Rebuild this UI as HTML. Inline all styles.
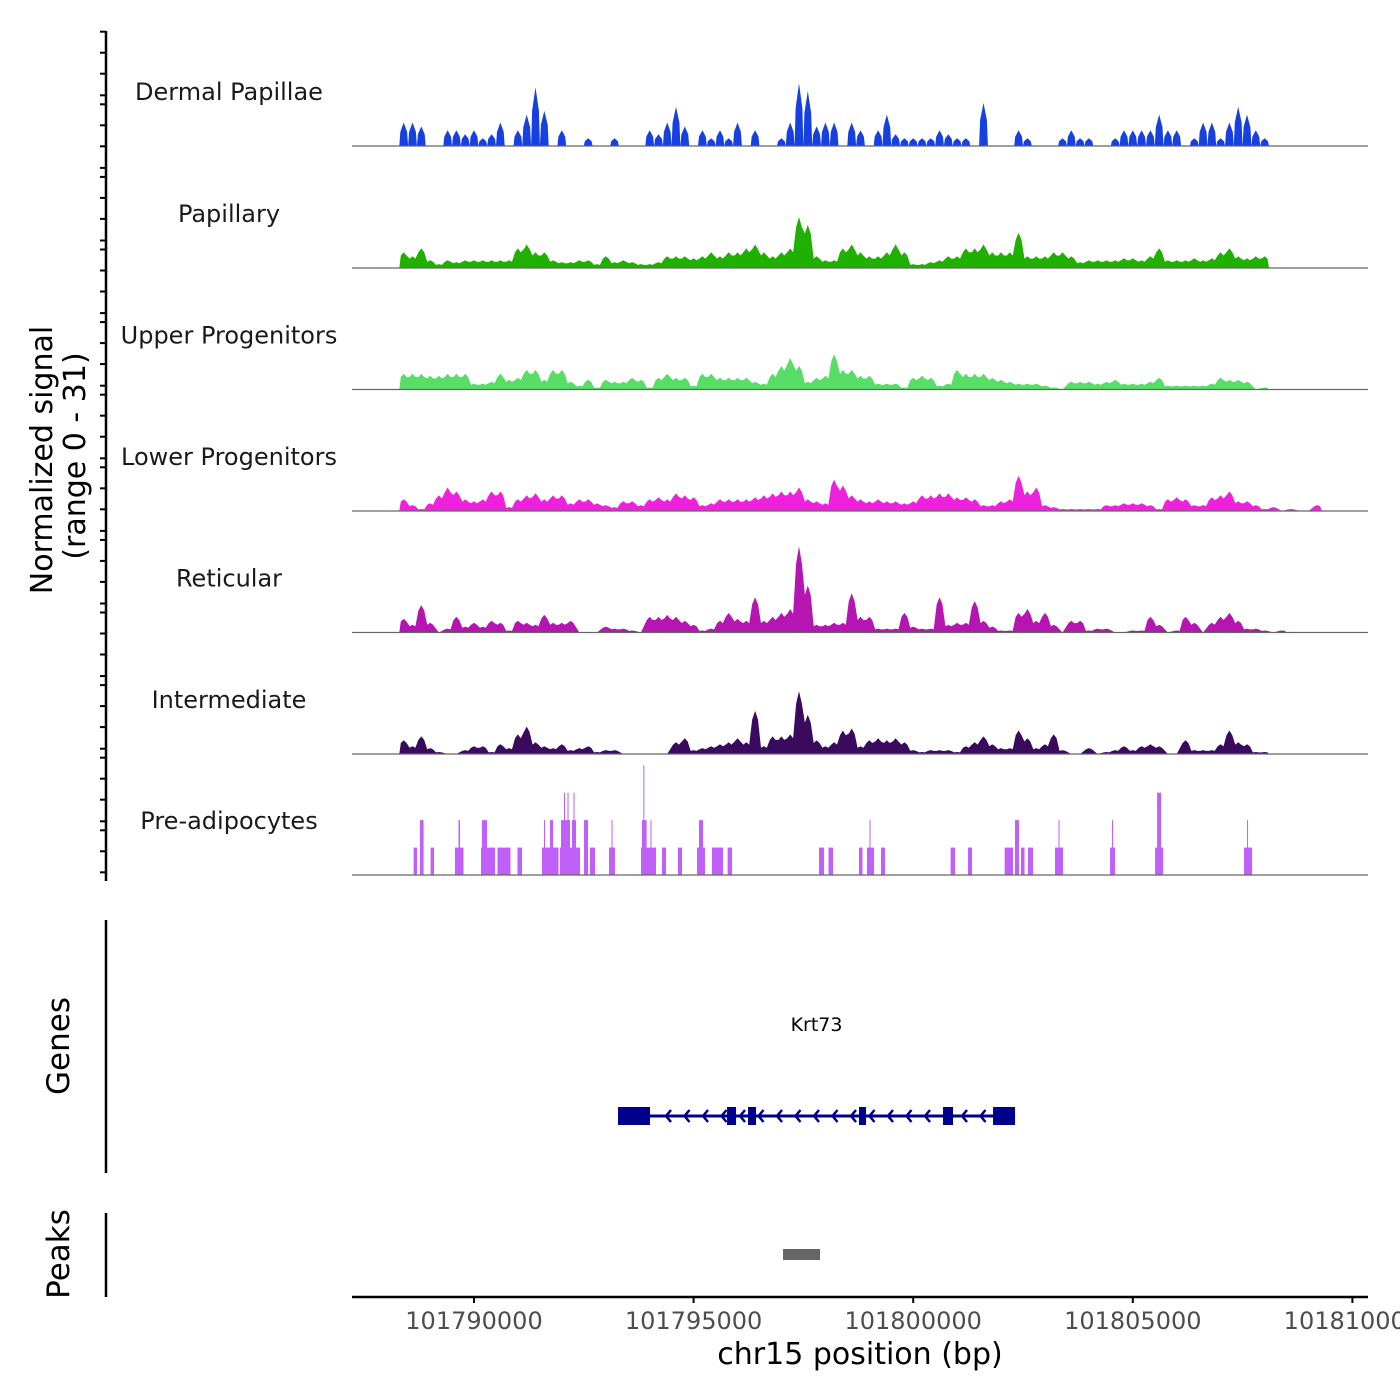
<!DOCTYPE html>
<html><head><meta charset="utf-8"><style>
html,body{margin:0;padding:0;background:#fff;}
svg{display:block;font-family:"DejaVu Sans","Liberation Sans",sans-serif;}
</style></head><body>
<svg id="chart" width="1400" height="1400" viewBox="0 0 1400 1400" xmlns="http://www.w3.org/2000/svg">
<rect width="1400" height="1400" fill="#fff"/>
<g id="tracks"></g>
<g id="leftaxis"></g>
<text transform="translate(52,460) rotate(-90)" font-size="30" text-anchor="middle" fill="#000">Normalized signal</text>
<text transform="translate(85,456) rotate(-90)" font-size="30" text-anchor="middle" fill="#000">(range 0 - 31)</text>
<line x1="106" y1="920" x2="106" y2="1173" stroke="#000" stroke-width="2.5"/>
<text transform="translate(69,1046) rotate(-90)" font-size="31" text-anchor="middle">Genes</text>
<line x1="106" y1="1213" x2="106" y2="1297" stroke="#000" stroke-width="2.5"/>
<text transform="translate(69,1254) rotate(-90)" font-size="31" text-anchor="middle">Peaks</text>
<g id="genes"></g>
<g id="peaks"></g>
<g id="xaxis"></g>
<text x="860" y="1364" font-size="30" text-anchor="middle">chr15 position (bp)</text>
</svg>
<script>
const NS="http://www.w3.org/2000/svg";
const trackNames=["Dermal Papillae","Papillary","Upper Progenitors","Lower Progenitors","Reticular","Intermediate","Pre-adipocytes"];
const trackColors=["#1740e0","#1fb000","#58dd66","#ee22dd","#b515b0","#3a0a5e","#c060f8"];
const binStart=101788300, binSize=200;
const dermalPapillae=[6,6,5,0,0,4,4,3,4,2,3,6,0,4,8,15,9,0,4,0,0,2,0,0,2,0,0,0,4,3,6,10,5,0,4,2,4,2,6,0,4,0,0,2,6,16,14,5,6,6,0,6,4,0,4,8,3,2,2,2,2,4,3,2,2,0,11,0,0,0,4,2,0,0,0,2,4,2,2,0,0,2,4,4,4,4,8,4,4,0,2,6,6,2,6,10,8,4,2];
const papillary=[4,3,5,2,1,2,1.5,2,2,2,2,2,2,5,6,4,4,2,1.5,1.5,2,2,1,3,1.5,2,1.5,1,1,1.5,3,3,3,2.5,3,4,3,4,4,5,6,4,3,4,5,13,11,3,2,2,5,6,4,3,3,4,6,4,1,1,1.5,2,3,3,5,5,6,4,4,4,9,3,3,3,4,4,3,1.5,2,2,2,2,2.5,2.5,2,3,5,2,2,2,2.5,2,2.5,4,5,3,2.5,3,3];
const upperProgenitors=[4,4,4,3.5,3.5,4,4,4,1.5,1.5,2,4,2.5,3,5,5,2.5,5,5,2,1,2.5,0.5,2.5,2,2,3,2.5,0.5,3,4,3,3,1,4,4,3,3,3,3,2,1.5,4,6,8,6,2,3,3.5,9,5,5,3.5,3.5,1.5,1.5,1.5,0.5,3,3.5,3,1,1.5,5,4,4,4,3,2.5,2,1.5,1.5,1.5,1,0.5,0,2,2,2,1.5,2,2.5,1.5,1.5,1.5,2,3,1,1,1,1,1,1.5,3,2.5,2.5,2,0,0.5];
const lowerProgenitors=[3,1.5,0.5,2,4,6,5,3,2.5,3,5,5,1,3,4,4.5,3,4,4,2,3,3,2,1.5,1,2.5,2.5,1.5,3,3.5,3,4.5,4,3.5,1.5,2,3,3,3,3,3.5,4,4.5,5,5,6,3,2.5,2,8,6.5,4,3,2.5,3,2.5,2.5,2,2.5,4,4,4.5,4.5,3.5,3.5,3,1.5,1.5,2.5,3,9,5,6,1.5,1,0.5,0.5,0.5,0.5,0.5,1.5,1.5,2,2,2,1.5,0.5,3,3.5,3,1.5,1.5,3.5,4,5,2.5,2.5,1.5,0.5,1,0,0.5,0,0,1.5];
const reticular=[3.5,2,7,2.5,0,1,4,1.5,2.5,1.5,3,2.5,0.5,3,2.5,2,4.5,2.5,2.5,3,0,0,0,1.5,1,1,0.5,0,4,4,4.5,4,3,2,0.5,1,3,5,3.5,3,9,3,4,5,6,22,12,2,2,2.5,2.5,10,4,4,1,1,1,5,1.5,1,1,9,2,2.5,2.5,8,3,1.5,0.5,0.5,5,6,3,5,2,0,3,3,0.5,1,1,0,0,0.5,0.5,4,2,0,0.5,4,2.5,0,2.5,4,5,3,1,1,0.5,0,0.5];
const intermediate=[3.5,2,4.5,1.5,0.5,0,0,1,2,2,0.5,2.5,1.5,5,7,3,2,1.5,2.5,1,1.5,2,0.5,1,1,0,0,0,0,0,0,3,4,1,1.5,2,2.5,3,4,3,11,2,4.5,4.5,5,16,10,3.5,2,3,6,6.5,2,3.5,4,3.5,4,3,1,0.5,1,1,1,0.5,2,3,4.5,2.5,1.5,1.5,6,4,1.5,2.5,5,1,0,0,1.5,0,0.5,1,2,1,2,2.5,2,0,0,3.5,1,1,1,2.5,6,3,2.5,0.5,0.5];
const binnedTracks=[dermalPapillae,papillary,upperProgenitors,lowerProgenitors,reticular,intermediate];
const preStart=[101788625,101788770,101789012,101789567,101789647,101790159,101790182,101790535,101790990,101791548,101791594,101791731,101791958,101791981,101792049,101792129,101792266,101792231,101792505,101792641,101793074,101793131,101793803,101793825,101793855,101794019,101794281,101794645,101795078,101795123,101795419,101795774,101797855,101798072,101798766,101798948,101799005,101799267,101800852,101801248,101802082,101802318,101802455,101802614,101803229,101803309,101804482,101804527,101805507,101805553,101807533,101807601];
const preEnd=[101788702,101788852,101789089,101789761,101789681,101790478,101790296,101790831,101791093,101791924,101791617,101791799,101792414,101792186,101792072,101792152,101792288,101792323,101792596,101792755,101793210,101793154,101794144,101793930,101793871,101794042,101794372,101794736,101795260,101795215,101795670,101795875,101797969,101798174,101798846,101799107,101799028,101799358,101800952,101801339,101802273,101802409,101802535,101802728,101803411,101803332,101804596,101804550,101805689,101805644,101807715,101807624];
const preVal=[7,14,7,7,14,7,14,7,7,7,14,14,7,14,21,21,21,14,14,7,7,14,7,14,28,14,7,7,7,14,7,7,7,7,7,7,14,7,7,7,7,14,7,7,7,14,7,14,7,21,7,14];
const xTicks=[101790000,101795000,101800000,101805000,101810000];
const exonStart=[101793279,101795761,101796239,101798766,101800679,101801818];
const exonEnd=[101794008,101795966,101796421,101798926,101800907,101802319];
const geneStart=101793279, geneEnd=101802319, geneName="Krt73";
const peakStart=[101797036], peakEnd=[101797878];

const xs=bp=>474+(bp-101790000)*219.6/5000;
const baselines=[146,268,389.5,511,632.5,754,875];
const unitPx=3.92;
const ys=(t,v)=>baselines[t]-v*unitPx;
function mk(tag,attrs,parent){const e=document.createElementNS(NS,tag);for(const k in attrs)e.setAttribute(k,attrs[k]);parent.appendChild(e);return e;}

const tg=document.getElementById('tracks');
for(let t=0;t<7;t++){
  const g=mk('g',{},tg);
  
  
  const lab=mk('text',{x:229,y:baselines[t]-46,'font-size':24,'text-anchor':'middle',fill:'#1a1a1a'},g);
  lab.textContent=trackNames[t];
  
  
  if(t<6){
    const arr=binnedTracks[t];
    const step=(t===0);
    let d='M'+xs(binStart).toFixed(1)+','+baselines[t];
    for(let i=0;i<arr.length;i++){
      const l=xs(binStart+i*binSize), r=xs(binStart+(i+1)*binSize), c=(l+r)/2;
      const v=arr[i];
      if(v<=0){d+=' L'+(step?l:c).toFixed(1)+','+baselines[t]+(step?' L'+r.toFixed(1)+','+baselines[t]:'');}
      else if(step){d+=' L'+l.toFixed(1)+','+baselines[t]+' L'+(l+1).toFixed(1)+','+ys(t,v*0.6).toFixed(1)+' L'+c.toFixed(1)+','+ys(t,v).toFixed(1)+' L'+(r-1).toFixed(1)+','+ys(t,v*0.6).toFixed(1)+' L'+r.toFixed(1)+','+baselines[t];}
      else{d+=' L'+(l+1.5).toFixed(1)+','+ys(t,v*0.8).toFixed(1)+' L'+c.toFixed(1)+','+ys(t,v).toFixed(1)+' L'+(r-1.5).toFixed(1)+','+ys(t,v*0.8).toFixed(1);}
    }
    d+=' L'+xs(binStart+arr.length*binSize).toFixed(1)+','+baselines[t]+' Z';
    const p=mk('path',{d:d,fill:trackColors[t]},g);
    
    
  } else {
    for(let i=0;i<preStart.length;i++){
      const r=mk('rect',{x:xs(preStart[i]),y:ys(t,preVal[i]),width:Math.max(1,xs(preEnd[i])-xs(preStart[i])),height:preVal[i]*unitPx,fill:trackColors[t]},g);
      
      
    }
  }
  const bl=mk('line',{x1:352,x2:1368,y1:baselines[t],y2:baselines[t],stroke:'#666','stroke-width':1.2},g);
  
  
}

const la=document.getElementById('leftaxis');
mk('line',{x1:106,y1:31,x2:106,y2:881,stroke:'#000','stroke-width':2.5},la);
for(let k=0;k<12;k++){
  for(const off of [0,21,42,63.6]){
    const y=31.7+k*72.6+off;
    if(y>881) continue;
    const tk=mk('line',{x1:100,x2:106,y1:y,y2:y,stroke:'#000','stroke-width':2},la);
    
    
  }
}

const gg=document.getElementById('genes');
const gl=mk('text',{x:xs((geneStart+geneEnd)/2),y:1031,'font-size':19,'text-anchor':'middle',fill:'#000'},gg);
gl.textContent=geneName;


const gline=mk('line',{x1:xs(geneStart),x2:xs(geneEnd),y1:1116,y2:1116,stroke:'#00008b','stroke-width':3},gg);


for(let x=xs(geneStart)+48;x<xs(geneEnd)-10;x+=18.5){
  const ch=mk('path',{d:'M'+(x+5)+',1110 L'+x+',1116 L'+(x+5)+',1122',fill:'none',stroke:'#00008b','stroke-width':2.5},gg);
  
  
}
for(let i=0;i<exonStart.length;i++){
  const ex=mk('rect',{x:xs(exonStart[i]),y:1107,width:xs(exonEnd[i])-xs(exonStart[i]),height:18,fill:'#00008b'},gg);
  
  
}

const pg=document.getElementById('peaks');
for(let i=0;i<peakStart.length;i++){
  const pr=mk('rect',{x:xs(peakStart[i]),y:1249,width:xs(peakEnd[i])-xs(peakStart[i]),height:11,fill:'#666'},pg);
  
  
}

const xa=document.getElementById('xaxis');
mk('line',{x1:352,x2:1368,y1:1297,y2:1297,stroke:'#000','stroke-width':2.5},xa);
for(const v of xTicks){
  const x=xs(v);
  const tk=mk('line',{x1:x,x2:x,y1:1297,y2:1303,stroke:'#000','stroke-width':2},xa);
  
  
  const tl=mk('text',{x:x,y:1329,'font-size':24,'text-anchor':'middle',fill:'#4d4d4d'},xa);
  tl.textContent=String(v);
  
  
}
</script>
</body></html>
